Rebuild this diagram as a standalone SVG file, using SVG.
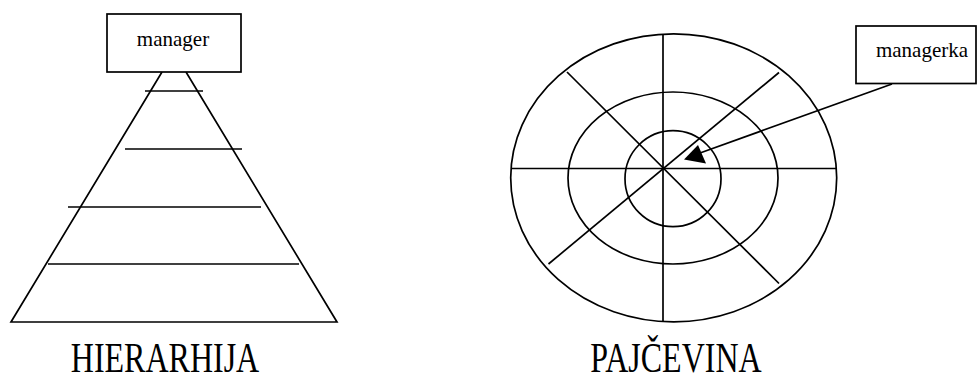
<svg xmlns="http://www.w3.org/2000/svg" width="977" height="385" viewBox="0 0 977 385">
<style>
.s{fill:none;stroke:#000;stroke-width:1.7}
.box{fill:#fff;stroke:#000;stroke-width:1.7}
.t{font-family:"Liberation Serif","Times New Roman",serif;fill:#000}
</style>
<rect width="977" height="385" fill="#fff"/>
<g id="hierarchy">
  <polyline class="s" points="162,72 11,322 337,322 186,72"/>
  <line class="s" x1="145" y1="91" x2="203" y2="91"/>
  <line class="s" x1="125" y1="149" x2="242" y2="149"/>
  <line class="s" x1="68" y1="207" x2="261" y2="207"/>
  <line class="s" x1="48" y1="264" x2="299" y2="264"/>
</g>
<g id="manager">
  <rect class="box" x="107" y="14" width="134" height="58"/>
  <text class="t" x="173" y="46" font-size="21" text-anchor="middle">manager</text>
</g>
<g id="web">
  <ellipse class="s" cx="673.7" cy="177.8" rx="163" ry="144"/>
  <ellipse class="s" cx="673" cy="178" rx="105" ry="86"/>
  <ellipse class="s" cx="673" cy="178.7" rx="48" ry="48"/>
  <line class="s" x1="663" y1="34" x2="663" y2="322"/>
  <line class="s" x1="511" y1="168.5" x2="837" y2="168.5"/>
  <line class="s" x1="567" y1="72" x2="779" y2="283.5"/>
  <line class="s" x1="548.5" y1="264" x2="779" y2="72.5"/>
</g>
<g id="managerka">
  <rect class="box" x="856" y="26" width="120" height="57.5"/>
  <text class="t" x="922" y="57" font-size="21" text-anchor="middle">managerka</text>
</g>
<g id="connectors">
  <line class="s" x1="892" y1="84" x2="700" y2="153"/>
  <polygon points="684,159.5 698,145 706,163.5" fill="#000"/>
</g>
<g id="labels">
  <text class="t" font-size="32" text-anchor="middle" transform="translate(165,372) scale(1,1.3)">HIERARHIJA</text>
  <text class="t" font-size="32" text-anchor="middle" transform="translate(676,372) scale(1,1.3)">PAJČEVINA</text>
</g>
</svg>
